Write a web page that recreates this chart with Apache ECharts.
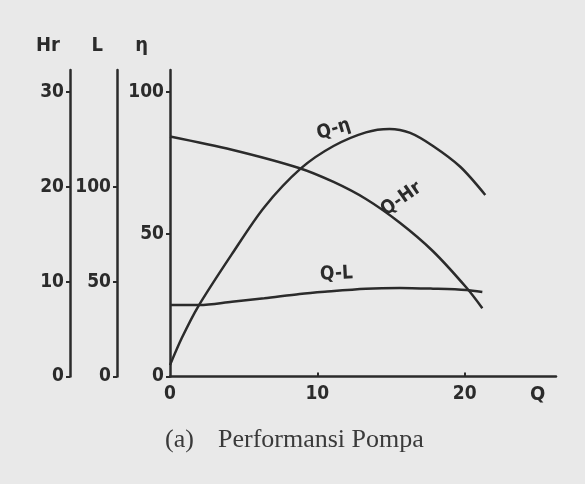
<!DOCTYPE html>
<html>
<head>
<meta charset="utf-8">
<script src="https://cdn.jsdelivr.net/npm/echarts@6/dist/echarts.min.js"></script>
<style>
  html, body { margin: 0; padding: 0; background: #e9e9e9; }
  #main { width: 585px; height: 484px; }
</style>
</head>
<body>
<div id="main"></div>
<script>
// debit Q (sumbu x)
var qTicks = [0, 10, 20];
// kurva Q-eta (efisiensi, %)
var etaQ = [0, 0.8, 1.9, 4.2, 6.4, 8.9, 11.1, 13.3, 14.9, 16.3, 17.85, 19.7, 21.4];
var etaVal = [4, 13.5, 24.5, 43, 59.5, 73.2, 81, 85.8, 87, 85.6, 81, 73.7, 63.8];
// kurva Q-Hr (head)
var hrQ = [0, 4.2, 8.7, 11.1, 13.3, 15.6, 17.85, 20.1, 21.2];
var hrVal = [25.3, 23.9, 22, 20.5, 18.7, 16.2, 13.2, 9.4, 7.2];
// kurva Q-L (daya)
var lQ = [0, 2, 4.2, 6.4, 8.8, 10.5, 13.3, 15.6, 17.85, 20.1, 21.2];
var lVal = [37.7, 37.7, 39.4, 41.2, 43.5, 44.7, 46.3, 46.7, 46.3, 45.6, 44.5];
// label sumbu
var etaTicks = [0, 50, 100];
var lTicks = [0, 50, 100];
var hrTicks = [0, 10, 20, 30];

function pairs(xs, ys) {
    var out = [];
    for (var i = 0; i < xs.length; i++) out.push([xs[i], ys[i]]);
    return out;
}

var ink = '#2b2b2b';
var hand = "'DejaVu Sans Condensed', 'Liberation Sans Narrow', sans-serif";

function yAxisDef(name, max, ticks, offset, namePad) {
    return {
        type: 'value',
        position: 'left',
        offset: offset,
        min: 0,
        max: max,
        name: name,
        nameLocation: 'end',
        nameGap: 14,
        nameTextStyle: {
            color: ink, fontFamily: hand, fontWeight: 'bold', fontSize: 20,
            align: 'right', padding: [0, namePad, 0, 0]
        },
        axisLine: { show: true, lineStyle: { color: ink, width: 2.5 } },
        axisTick: { show: true, length: 4, customValues: ticks, lineStyle: { color: ink, width: 2 } },
        axisLabel: {
            customValues: ticks, margin: 6,
            color: ink, fontFamily: hand, fontWeight: 'bold', fontSize: 19
        },
        splitLine: { show: false }
    };
}

function lineSeries(name, yIdx, data, labelCoord, rot) {
    return {
        name: name,
        type: 'line',
        yAxisIndex: yIdx,
        data: data,
        smooth: 0.3,
        showSymbol: false,
        lineStyle: { color: ink, width: 2.5 },
        markPoint: {
            symbol: 'circle',
            symbolSize: 1,
            itemStyle: { color: 'rgba(0,0,0,0)' },
            label: {
                show: true, position: 'inside', formatter: name, rotate: rot,
                color: ink, fontFamily: hand, fontWeight: 'bold', fontSize: 19
            },
            data: [{ coord: labelCoord }]
        }
    };
}

var myChart = echarts.init(document.getElementById('main'));
var option = {
    backgroundColor: '#e9e9e9',
    animation: false,
    grid: { left: 170, right: 29, top: 70, bottom: 107.5 },
    xAxis: {
        type: 'value',
        min: 0,
        max: 26.2,
        interval: 10,
        name: 'Q',
        nameLocation: 'end',
        nameGap: -26,
        nameTextStyle: {
            color: ink, fontFamily: hand, fontWeight: 'bold', fontSize: 20,
            verticalAlign: 'top', padding: [8, 0, 0, 0]
        },
        axisLine: { show: true, lineStyle: { color: ink, width: 2.5 } },
        axisTick: { show: true, inside: true, length: 4, customValues: [10, 20], lineStyle: { color: ink, width: 2 } },
        axisLabel: {
            customValues: qTicks, margin: 8,
            color: ink, fontFamily: hand, fontWeight: 'bold', fontSize: 19
        },
        splitLine: { show: false }
    },
    yAxis: [
        yAxisDef('η', 107.7, etaTicks, 0, 22),
        yAxisDef('L', 161.6, lTicks, 53, 14),
        yAxisDef('Hr', 32.3, hrTicks, 100, 10)
    ],
    series: [
        lineSeries('Q-η', 0, pairs(etaQ, etaVal), [11.1, 86.8], 17),
        lineSeries('Q-Hr', 2, pairs(hrQ, hrVal), [15.7, 18.7], 35),
        lineSeries('Q-L', 1, pairs(lQ, lVal), [11.3, 54], 3)
    ],
    graphic: [{
        type: 'text',
        left: 165,
        top: 427,
        style: {
            text: '(a)',
            font: '26px "Liberation Serif", "DejaVu Serif", serif',
            fill: '#3a3a3a'
        }
    }, {
        type: 'text',
        left: 218,
        top: 427,
        style: {
            text: 'Performansi Pompa',
            font: '26px "Liberation Serif", "DejaVu Serif", serif',
            fill: '#3a3a3a'
        }
    }]
};
myChart.setOption(option);
</script>
</body>
</html>
